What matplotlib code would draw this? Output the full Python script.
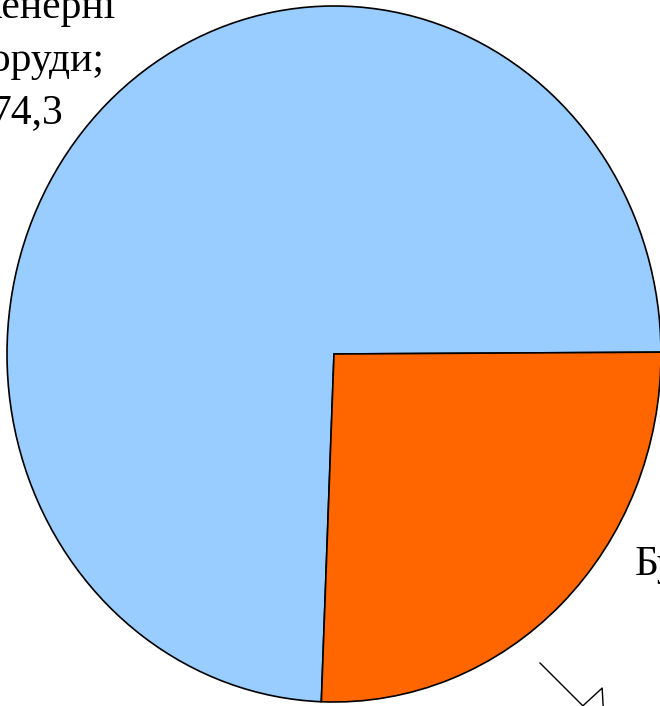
import matplotlib
matplotlib.use("Agg")
import matplotlib.pyplot as plt

categories = ["Інженерні\nспоруди", "Будівлі"]
values = [74.3, 25.7]
colors = ["#99CCFF", "#FF6600"]
value_labels = ["74,3", "25,7"]

plt.rcParams['font.family'] = ['Liberation Serif', 'DejaVu Serif']

fig = plt.figure(figsize=(6.60, 7.06), dpi=100)
ax = fig.add_axes([0, 0, 1, 1])
ax.pie(values, colors=colors, startangle=0.3, counterclock=True,
       wedgeprops=dict(edgecolor="black", linewidth=1.2))
ax.set_aspect('auto')
ax.set_xlim(-1.0214, 0.9969)
ax.set_ylim(-1.0115, 1.0172)
ax.axis('off')

ax.text(-0.940, 0.663, f"{categories[0]};\n{value_labels[0]}", ha='center', va='baseline',
        fontsize=30, linespacing=1.48, multialignment='center')
ax.text(1.128, -0.787, f"{categories[1]};\n{value_labels[1]}", ha='center', va='baseline',
        fontsize=30, linespacing=1.48, multialignment='center')

# leader line toward the off-canvas label
lx = [0.630, 0.761, 0.820, 0.823]
ly = [-0.888, -1.011, -0.960, -1.011]
ax.plot(lx, ly, color='black', linewidth=1.0, clip_on=False)

fig.savefig("out.png", dpi=100)
